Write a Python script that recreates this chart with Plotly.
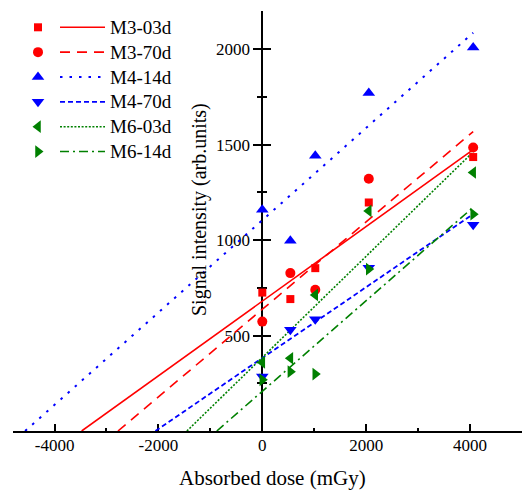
import numpy as np
import plotly.graph_objects as go

# ---- data ----
dose = [0, 540, 1020, 2050, 4060]
series_names = ["M3-03d", "M3-70d", "M4-14d", "M4-70d", "M6-03d", "M6-14d"]
m3_03d = [725, 691, 853, 1197, 1435]
m3_70d = [573, 827, 740, 1321, 1485]
m4_14d = [1159, 996, 1442, 1770, 2009]
m4_70d = [285, 530, 586, 855, 1080]
m6_03d = [359, 381, 713, 1153, 1354]
m6_14d = [268, 311, 298, 848, 1136]
x_ticks = [-4000, -2000, 0, 2000, 4000]
x_minor = [-3000, -1000, 1000, 3000, 5000]
y_ticks = [500, 1000, 1500, 2000]
y_minor = [250, 750, 1250, 1750]

values = [m3_03d, m3_70d, m4_14d, m4_70d, m6_03d, m6_14d]
colors = ["#ff0000", "#ff0000", "#0000ff", "#0000ff", "#008000", "#008000"]
symbols = ["square", "circle", "triangle-up", "triangle-down", "triangle-left", "triangle-right"]
msizes = [8, 10, 11, 11, 11, 11]
dashes = ["solid", "10px,7px", "2.5px,7px", "5px,3px", "2px,1.6px", "9px,4px,2px,4px"]
lwidths = [1.6, 1.6, 2, 1.8, 1.6, 1.6]

FONT = "Liberation Serif, Times New Roman, serif"
W, H = 524, 491
ML, MR, MT, MB = 13, 2, 11, 60
XR = [-4800, 5000]
YR = [0, 2200]
plot_w = W - ML - MR
plot_h = H - MT - MB

fig = go.Figure()

for name, vals, c, sym, ms, dsh, lw in zip(series_names, values, colors, symbols, msizes, dashes, lwidths):
    m, b = np.polyfit(dose, vals, 1)
    x0 = -b / m
    x1 = max(dose)
    fig.add_trace(go.Scatter(x=[x0, x1], y=[m * x0 + b, m * x1 + b], mode="lines",
                             line=dict(color=c, dash=dsh, width=lw), showlegend=False,
                             hoverinfo="skip"))
for name, vals, c, sym, ms in zip(series_names, values, colors, symbols, msizes):
    fig.add_trace(go.Scatter(x=dose, y=vals, mode="markers", name=name,
                             marker=dict(symbol=sym, size=ms, color=c, line=dict(width=0)),
                             showlegend=False, cliponaxis=False))

# dummy trace for inner y ticks
fig.add_trace(go.Scatter(x=[None], y=[None], xaxis="x", yaxis="y3", showlegend=False))

# ---- custom legend on pixel-like overlay axes ----
row0, drow = 27.3, 24.85
for i, (name, c, sym, ms, dsh, lw) in enumerate(zip(series_names, colors, symbols, msizes, dashes, lwidths)):
    ry = row0 + i * drow
    fig.add_trace(go.Scatter(x=[60, 105], y=[ry, ry], mode="lines", xaxis="x2", yaxis="y2",
                             line=dict(color=c, dash=dsh, width=lw), showlegend=False, hoverinfo="skip"))
    fig.add_trace(go.Scatter(x=[38], y=[ry], mode="markers", xaxis="x2", yaxis="y2",
                             marker=dict(symbol=sym, size=ms, color=c, line=dict(width=0)),
                             showlegend=False, hoverinfo="skip"))
    fig.add_annotation(x=108, y=ry, xref="x2", yref="y2", text=name, showarrow=False,
                       xanchor="left", yanchor="middle", font=dict(family=FONT, size=19, color="black"))

# axis titles
fig.add_annotation(x=(272 - ML) / plot_w, y=(MT + plot_h - 491) / plot_h, xref="paper", yref="paper",
                   text="Absorbed dose (mGy)", showarrow=False, borderpad=0,
                   xanchor="center", yanchor="bottom", font=dict(family=FONT, size=21, color="black"))
fig.add_annotation(x=199, y=210, xref="x2", yref="y2", text="Signal intensity (arb.units)", showarrow=False,
                   textangle=-90, xanchor="center", yanchor="middle",
                   font=dict(family=FONT, size=20, color="black"))

ypos = (0 - XR[0]) / (XR[1] - XR[0])

fig.update_layout(
    width=W, height=H,
    margin=dict(l=ML, r=MR, t=MT, b=MB, pad=0),
    paper_bgcolor="white", plot_bgcolor="white",
    font=dict(family=FONT, size=17, color="black"),
    xaxis=dict(range=XR, showgrid=False, zeroline=False, showline=True, linecolor="black", linewidth=2,
               ticks="inside", ticklen=7, tickwidth=1.5, tickcolor="black", tickmode="array",
               tickvals=x_ticks, ticktext=[str(v) for v in x_ticks],
               minor=dict(tickmode="array", tickvals=x_minor, ticks="inside", ticklen=3.5,
                          tickwidth=1.5, tickcolor="black"),
               tickfont=dict(family=FONT, size=17), anchor="y", ticklabelstandoff=-2,
               layer="below traces"),
    yaxis=dict(range=YR, showgrid=False, zeroline=False, showline=True, linecolor="black", linewidth=2,
               anchor="free", position=ypos, ticks="outside", ticklen=8, tickwidth=1.5, tickcolor="black",
               tickmode="array", tickvals=y_ticks, ticktext=[str(v) for v in y_ticks],
               minor=dict(tickmode="array", tickvals=y_minor, ticks="outside", ticklen=4,
                          tickwidth=1.5, tickcolor="black"),
               tickfont=dict(family=FONT, size=17), layer="below traces"),
    yaxis3=dict(range=YR, overlaying="y", anchor="free", position=ypos, showgrid=False, zeroline=False,
                showline=False, ticks="inside", ticklen=8, tickwidth=1.5, tickcolor="black",
                tickmode="array", tickvals=y_ticks, showticklabels=False,
                minor=dict(tickmode="array", tickvals=y_minor, ticks="inside", ticklen=4,
                           tickwidth=1.5, tickcolor="black"), layer="below traces"),
    xaxis2=dict(range=[ML, ML + plot_w], overlaying="x", visible=False, anchor="y2"),
    yaxis2=dict(range=[MT + plot_h, MT], overlaying="y", visible=False, anchor="x2"),
    showlegend=False,
)

fig.write_html("out.html")
